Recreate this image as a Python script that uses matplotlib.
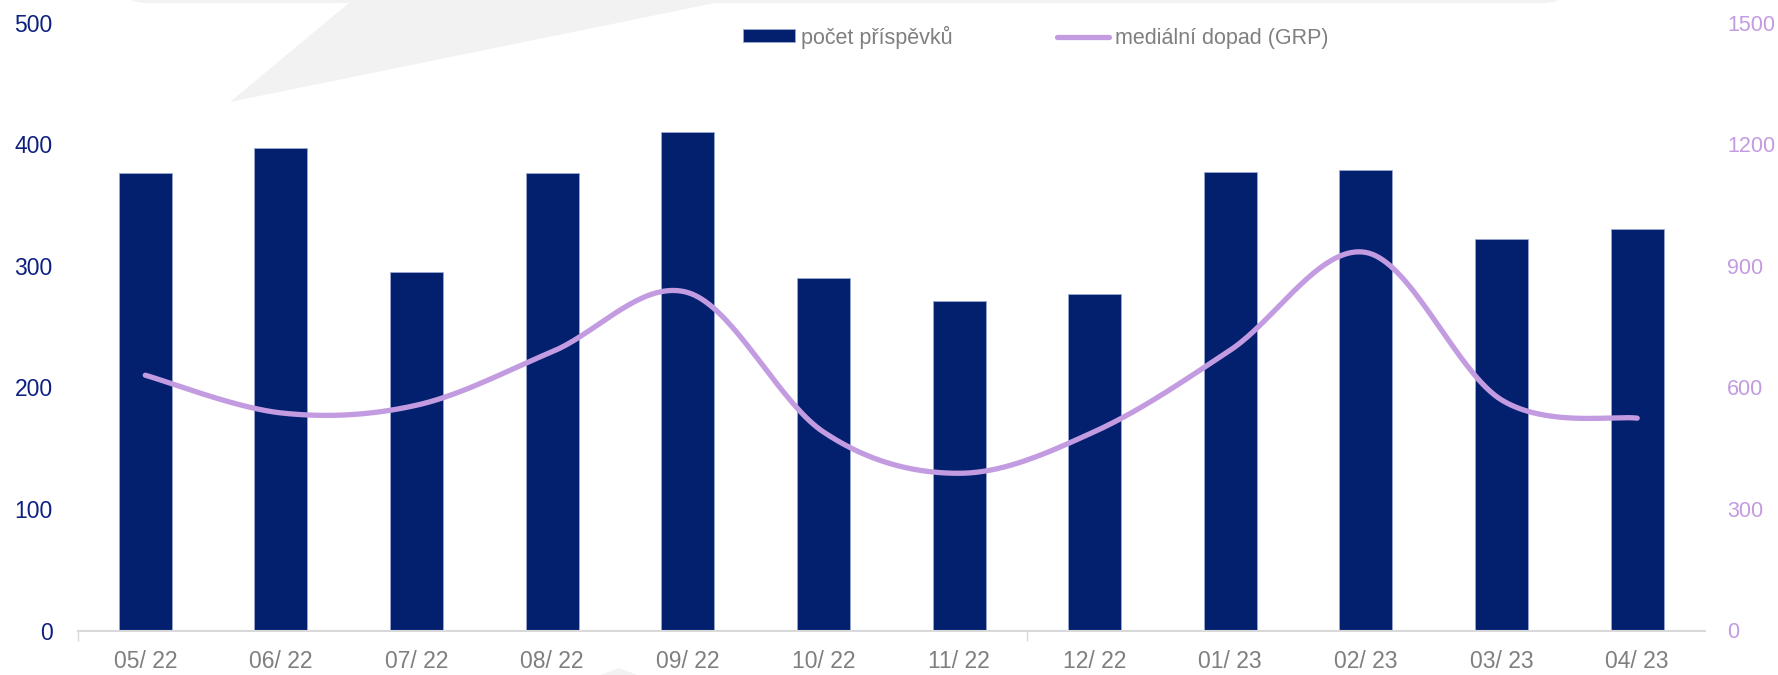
import numpy as np
import matplotlib
matplotlib.use("Agg")
import matplotlib.pyplot as plt
from matplotlib.patches import FancyBboxPatch, Polygon
from matplotlib.lines import Line2D

# monthly data
months = ["05/ 22", "06/ 22", "07/ 22", "08/ 22", "09/ 22", "10/ 22",
          "11/ 22", "12/ 22", "01/ 23", "02/ 23", "03/ 23", "04/ 23"]
posts = [376, 397, 295, 376, 410, 290, 271, 277, 377, 379, 322, 330]
grp = [630, 537, 556, 688, 834, 490, 388, 491, 692, 933, 569, 524]

left_ticks = [0, 100, 200, 300, 400, 500]
right_ticks = [0, 300, 600, 900, 1200, 1500]

NAVY = "#03206f"
LAVENDER = "#c39be1"
GREY_TXT = "#7f7f7f"

W, H = 1778, 675
plt.rcParams["font.family"] = ["Liberation Sans", "DejaVu Sans"]
plt.rcParams["font.size"] = 16.5


def smooth(xs, ys, n=40):
    # Catmull-Rom style bezier, like spreadsheet "smoothed line"
    xs = np.asarray(xs, float)
    ys = np.asarray(ys, float)
    px = np.concatenate([[xs[0]], xs, [xs[-1]]])
    py = np.concatenate([[ys[0]], ys, [ys[-1]]])
    out_x, out_y = [], []
    t = np.linspace(0, 1, n)
    for i in range(1, len(px) - 2):
        p0 = np.array([px[i], py[i]])
        p3 = np.array([px[i + 1], py[i + 1]])
        c1 = p0 + (np.array([px[i + 1], py[i + 1]]) - np.array([px[i - 1], py[i - 1]])) / 6
        c2 = p3 - (np.array([px[i + 2], py[i + 2]]) - np.array([px[i], py[i]])) / 6
        b = ((1 - t) ** 3)[:, None] * p0 + (3 * (1 - t) ** 2 * t)[:, None] * c1 \
            + (3 * (1 - t) * t ** 2)[:, None] * c2 + (t ** 3)[:, None] * p3
        out_x.extend(b[:, 0])
        out_y.extend(b[:, 1])
    return np.array(out_x), np.array(out_y)


def fx(x):
    return x / W


def fy(y):
    return 1 - y / H


fig = plt.figure(figsize=(W / 100, H / 100), dpi=100)

# light grey callout shape in the background
bubble = FancyBboxPatch((fx(128), fy(3)), fx(1434), 0.08,
                        boxstyle="round,pad=0,rounding_size=0.012",
                        transform=fig.transFigure, facecolor="#f2f2f2",
                        edgecolor="none", zorder=-2)
fig.patches.append(bubble)
tail = Polygon([(fx(350), fy(2)), (fx(720), fy(2)), (fx(230), fy(102))],
               closed=True, transform=fig.transFigure, facecolor="#f2f2f2",
               edgecolor="none", zorder=-2)
fig.patches.append(tail)
notch = Polygon([(fx(619), fy(668)), (fx(640), fy(676)), (fx(598), fy(676))],
                closed=True, transform=fig.transFigure, facecolor="#f2f2f2",
                edgecolor="none", zorder=-2)
fig.patches.append(notch)

ax = fig.add_axes([fx(77.5), fy(630.5), fx(1705) - fx(77.5), fy(22.7) - fy(630.5)])
ax.patch.set_alpha(0)
x = np.arange(len(months))
bars = ax.bar(x, posts, width=0.39, color=NAVY, edgecolor="#9aa8d2",
              linewidth=0.6, zorder=2)
ax.set_xlim(-0.5, len(months) - 0.5)
ax.set_ylim(0, 500)
ax.set_yticks(left_ticks)
ax.set_xticks(x)
ax.set_xticklabels(months, color=GREY_TXT)
ax.set_xticks([-0.5, 6.5], minor=True)
ax.tick_params(axis="x", which="major", length=0, pad=14)
ax.tick_params(axis="x", which="minor", length=7, width=1, color="#d9d9d9",
               direction="out")
ax.tick_params(axis="y", length=0, pad=18, labelcolor="#0d2080")
for s in ["top", "left", "right"]:
    ax.spines[s].set_visible(False)
ax.spines["bottom"].set_color("#d9d9d9")
ax.spines["bottom"].set_linewidth(1.5)

ax2 = ax.twinx()
ax2.set_ylim(0, 1500)
ax2.set_yticks(right_ticks)
ax2.tick_params(axis="y", length=0, pad=16, labelcolor=LAVENDER, labelsize=15.5)
for s in ["top", "left", "right", "bottom"]:
    ax2.spines[s].set_visible(False)
sx, sy = smooth(x, grp)
ax2.plot(sx, sy, color=LAVENDER, linewidth=3.8, solid_capstyle="round", zorder=3)

handles = [bars, Line2D([], [], color=LAVENDER, linewidth=3.8, solid_capstyle="round")]
leg = fig.legend(handles, ["počet příspěvků", "mediální dopad (GRP)"],
                 loc="center left", bbox_to_anchor=(fx(743), fy(37)),
                 ncol=2, frameon=False, fontsize=15.5, handlelength=2.42,
                 handleheight=0.55, handletextpad=0.28, columnspacing=4.84,
                 borderpad=0, borderaxespad=0)
for t in leg.get_texts():
    t.set_color(GREY_TXT)

fig.savefig("out.png", dpi=100)
